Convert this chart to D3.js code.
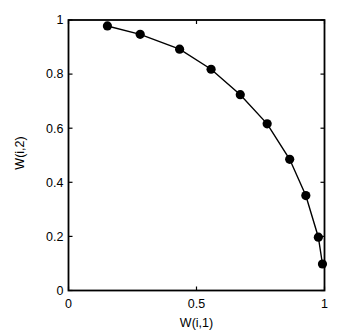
<!DOCTYPE html>
<html><head><meta charset="utf-8">
<script src="https://cdn.jsdelivr.net/npm/d3@7"></script>
<style>body{margin:0;background:#fff}svg{display:block}text{font-family:"Liberation Sans",Arial,Helvetica,sans-serif;fill:#000}</style>
</head><body>
<script>
const w1 = [0.152, 0.280, 0.434, 0.557, 0.671, 0.776, 0.864, 0.927, 0.976, 0.992];
const w2 = [0.978, 0.947, 0.892, 0.818, 0.724, 0.616, 0.485, 0.351, 0.197, 0.098];
const xTicks = [0, 0.5, 1];
const yTicks = [0, 0.2, 0.4, 0.6, 0.8, 1];
const xLabel = "W(i,1)", yLabel = "W(i,2)";

const W = 345, H = 336;
const L = 68.5, R = 324.5, T = 20, B = 290.5;
const svg = d3.select("body").append("svg").attr("width", W).attr("height", H);
const x = d3.scaleLinear().domain([0, 1]).range([L, R]);
const y = d3.scaleLinear().domain([0, 1]).range([B, T]);
const fmt = d => d === 0 ? "0" : d === 1 ? "1" : String(d);
const fs = 12.5, tl = 4;

// ticks (inside, all four sides)
const g = svg.append("g").attr("stroke", "#000").attr("stroke-width", 1.2);
xTicks.forEach(t => {
  g.append("line").attr("x1", x(t)).attr("x2", x(t)).attr("y1", B).attr("y2", B - tl);
  g.append("line").attr("x1", x(t)).attr("x2", x(t)).attr("y1", T).attr("y2", T + tl);
});
yTicks.forEach(t => {
  g.append("line").attr("y1", y(t)).attr("y2", y(t)).attr("x1", L).attr("x2", L + tl);
  g.append("line").attr("y1", y(t)).attr("y2", y(t)).attr("x1", R).attr("x2", R - tl);
});
svg.append("rect").attr("x", L).attr("y", T).attr("width", R - L).attr("height", B - T)
  .attr("fill", "none").attr("stroke", "#000").attr("stroke-width", 1.8);

svg.append("g").selectAll("text").data(xTicks).join("text")
  .attr("x", d => x(d)).attr("y", B + 17).attr("text-anchor", "middle")
  .attr("font-size", fs).text(fmt);
svg.append("g").selectAll("text").data(yTicks).join("text")
  .attr("x", L - 5).attr("y", d => y(d)).attr("dy", "0.35em").attr("text-anchor", "end")
  .attr("font-size", fs).text(fmt);

svg.append("text").attr("x", (L + R) / 2).attr("y", 327).attr("text-anchor", "middle")
  .attr("font-size", fs).text(xLabel);
svg.append("text").attr("transform", `translate(24,153) rotate(-90)`)
  .attr("text-anchor", "middle").attr("font-size", fs).text(yLabel);

const pts = w1.map((v, i) => [v, w2[i]]);
svg.append("path").datum(pts)
  .attr("d", d3.line().x(d => x(d[0])).y(d => y(d[1])))
  .attr("fill", "none").attr("stroke", "#000").attr("stroke-width", 1.4);
svg.append("g").selectAll("circle").data(pts).join("circle")
  .attr("cx", d => x(d[0])).attr("cy", d => y(d[1])).attr("r", 4.6).attr("fill", "#000");
</script>
</body></html>
